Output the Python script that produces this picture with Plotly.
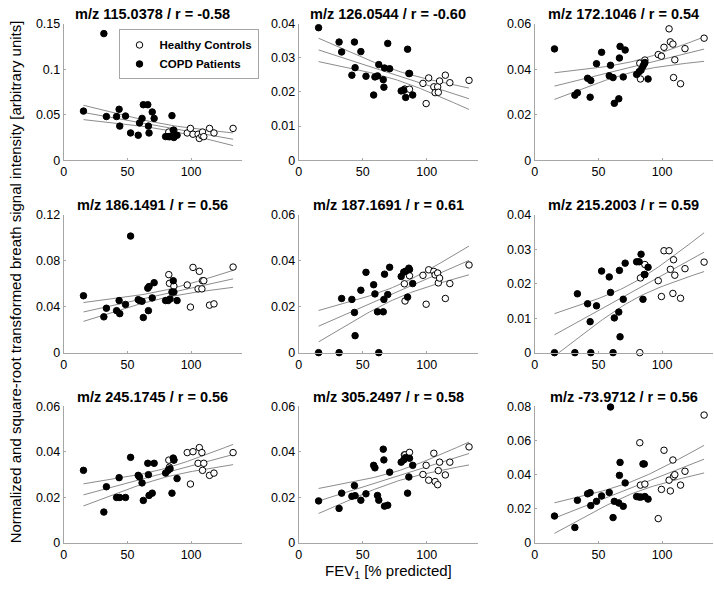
import numpy as np
import plotly.graph_objects as go

# FEV1 [% predicted] per subject (same subjects in every panel)
fev_copd = [15.5, 31.5, 33.5, 41.5, 43.5, 44, 48.5, 52.5, 58.5, 59.5, 61.5, 62.5,
            66, 66.5, 67, 69.5, 71, 80, 82, 83.5, 85, 86, 86.5, 89]
fev_healthy = [82.5, 83, 86.5, 97, 99.5, 101.5, 105.5, 106.5, 108.5, 109, 110,
               114.5, 118, 133]

titles = ["m/z 115.0378 / r = -0.58", "m/z 126.0544 / r = -0.60", "m/z 172.1046 / r = 0.54",
          "m/z 186.1491 / r = 0.56", "m/z 187.1691 / r = 0.61", "m/z 215.2003 / r = 0.59",
          "m/z 245.1745 / r = 0.56", "m/z 305.2497 / r = 0.58", "m/z -73.9712 / r = 0.56"]

y_max = [0.15, 0.04, 0.06, 0.12, 0.06, 0.04, 0.06, 0.06, 0.08]
y_dtick = [0.05, 0.01, 0.02, 0.04, 0.02, 0.01, 0.02, 0.02, 0.02]

copd_115 = [0.054, 0.139, 0.048, 0.048, 0.056, 0.0375, 0.0486, 0.030, 0.0275, 0.041, 0.046, 0.061,
            0.061, 0.0375, 0.030, 0.053, 0.046, 0.026, 0.026, 0.026, 0.049, 0.033, 0.025, 0.0275]
healthy_115 = [0.031, 0.026, 0.033, 0.030, 0.035, 0.0286, 0.0286, 0.024, 0.027, 0.031, 0.026,
               0.035, 0.030, 0.035]

copd_126 = [0.0388, 0.0346, 0.0317, 0.0249, 0.0346, 0.0271, 0.0318, 0.0246, 0.0191, 0.0244, 0.0247, 0.028,
            0.0236, 0.0214, 0.027, 0.0342, 0.0268, 0.0203, 0.0205, 0.0184, 0.0325, 0.0254, 0.0254, 0.0191]
healthy_126 = [0.0208, 0.0208, 0.0208, 0.0225, 0.0166, 0.0241, 0.0215, 0.0198, 0.0215, 0.0199, 0.0232,
               0.0249, 0.0227, 0.0234]

copd_172 = [0.0489, 0.0286, 0.0296, 0.036, 0.0277, 0.035, 0.0424, 0.0474, 0.0371, 0.0417, 0.0363, 0.025,
            0.027, 0.0449, 0.05, 0.0366, 0.0484, 0.0377, 0.0389, 0.0396, 0.0413, 0.0424, 0.0429, 0.0357]
healthy_172 = [0.0426, 0.0357, 0.044, 0.0464, 0.0457, 0.0496, 0.0577, 0.052, 0.051, 0.0363, 0.0441,
               0.0336, 0.049, 0.0536]

copd_186 = [0.0496, 0.0312, 0.0387, 0.0366, 0.0454, 0.034, 0.042, 0.1016, 0.0462, 0.0454, 0.0448, 0.0306,
            0.0562, 0.0366, 0.0576, 0.0477, 0.061, 0.0454, 0.0454, 0.0468, 0.0528, 0.0627, 0.0528, 0.0454]
healthy_186 = [0.068, 0.0604, 0.058, 0.059, 0.0397, 0.0743, 0.0556, 0.0709, 0.0556, 0.0627, 0.0627,
               0.0414, 0.0425, 0.0746]

copd_187 = [0.0, 0.0, 0.0236, 0.0232, 0.0175, 0.0074, 0.0272, 0.035, 0.0296, 0.0256, 0.0178, 0.0,
            0.0178, 0.0232, 0.0342, 0.0253, 0.0372, 0.0332, 0.0351, 0.0355, 0.0242, 0.0368, 0.0362, 0.0301]
healthy_187 = [0.030, 0.0225, 0.0335, 0.0337, 0.0211, 0.0361, 0.0354, 0.0339, 0.0347, 0.0304, 0.0325,
               0.0236, 0.0301, 0.0382]

copd_215 = [0.0, 0.0, 0.0171, 0.0142, 0.009, 0.0, 0.0136, 0.0237, 0.022, 0.0175, 0.0, 0.0101,
            0.0118, 0.0239, 0.0046, 0.0155, 0.026, 0.0264, 0.0264, 0.0286, 0.0155, 0.0227, 0.0227, 0.0248]
healthy_215 = [0.0, 0.0217, 0.0256, 0.0209, 0.0163, 0.0296, 0.0296, 0.0242, 0.0172, 0.027, 0.0225,
               0.0158, 0.0244, 0.0263]

copd_245 = [0.0319, 0.0136, 0.0247, 0.02, 0.0287, 0.02, 0.02, 0.0376, 0.0297, 0.029, 0.0264, 0.0187,
            0.035, 0.03, 0.0209, 0.0219, 0.035, 0.0307, 0.0319, 0.0326, 0.0219, 0.0373, 0.0365, 0.0283]
healthy_245 = [0.0364, 0.0333, 0.0364, 0.0397, 0.0259, 0.0401, 0.035, 0.0419, 0.0397, 0.0319, 0.035,
               0.0297, 0.0307, 0.0397]

copd_305 = [0.0185, 0.0152, 0.0219, 0.0205, 0.0252, 0.0208, 0.0188, 0.0216, 0.0341, 0.033, 0.0209, 0.0188,
            0.0412, 0.0365, 0.0162, 0.0166, 0.0311, 0.0355, 0.0365, 0.0375, 0.0219, 0.029, 0.0372, 0.0341]
healthy_305 = [0.0387, 0.0387, 0.0398, 0.0301, 0.0341, 0.0276, 0.0394, 0.027, 0.0256, 0.0318, 0.0355,
               0.0299, 0.0355, 0.0422]

copd_74 = [0.0158, 0.0091, 0.025, 0.0288, 0.0295, 0.0219, 0.0244, 0.0276, 0.0296, 0.0796, 0.0149, 0.0244,
           0.0234, 0.0396, 0.0472, 0.0215, 0.0352, 0.0272, 0.0269, 0.0269, 0.0463, 0.0463, 0.0272, 0.0257]
healthy_74 = [0.0587, 0.0339, 0.0345, 0.0143, 0.0314, 0.0543, 0.0368, 0.0305, 0.0486, 0.039, 0.040,
              0.0339, 0.042, 0.0749]

copd_all = [copd_115, copd_126, copd_172, copd_186, copd_187, copd_215, copd_245, copd_305, copd_74]
healthy_all = [healthy_115, healthy_126, healthy_172, healthy_186, healthy_187, healthy_215,
               healthy_245, healthy_305, healthy_74]

W, H = 714, 593


def px(x):
    return x / W


def py(y):
    return 1 - y / H


col_px = [(61, 240), (297, 477), (534, 713)]
row_px = [(17, 157), (213, 354), (409, 549)]
FONT = "Liberation Sans, Arial, Helvetica"


def fit_band(x, y):
    # straight line fit with 95% band, points beyond 3 sd left out of the fit
    keep = np.ones(len(x), bool)
    for _ in range(2):
        b, a = np.polyfit(x[keep], y[keep], 1)
        res = y - (a + b * x)
        s = np.sqrt(np.sum(res[keep] ** 2) / (keep.sum() - 2))
        keep = np.abs(res) < 3 * s
    b, a = np.polyfit(x[keep], y[keep], 1)
    xk = x[keep]
    res = y[keep] - (a + b * xk)
    s = np.sqrt(np.sum(res ** 2) / (len(xk) - 2))
    xs = np.linspace(x.min(), x.max(), 60)
    se = s * np.sqrt(1 / len(xk) + (xs - xk.mean()) ** 2 / np.sum((xk - xk.mean()) ** 2))
    fit = a + b * xs
    return xs, [fit, fit + 2.03 * se, fit - 2.03 * se]


fig = go.Figure()
ann = []
for i in range(9):
    r, c = divmod(i, 3)
    n = i + 1
    xa = "x" if n == 1 else f"x{n}"
    ya = "y" if n == 1 else f"y{n}"

    x = np.array(fev_copd + fev_healthy, dtype=float)
    y = np.array(copd_all[i] + healthy_all[i], dtype=float)
    xs, lines = fit_band(x, y)
    for yy in lines:
        fig.add_trace(go.Scatter(x=xs, y=yy, mode="lines", xaxis=xa, yaxis=ya,
                                 line=dict(color="#8c8c8c", width=1), showlegend=False,
                                 hoverinfo="skip"))

    fig.add_trace(go.Scatter(x=fev_healthy, y=healthy_all[i], mode="markers", xaxis=xa, yaxis=ya,
                             name="Healthy Controls", showlegend=(i == 0), cliponaxis=False,
                             marker=dict(size=6.5, color="white", line=dict(color="black", width=1))))
    fig.add_trace(go.Scatter(x=fev_copd, y=copd_all[i], mode="markers", xaxis=xa, yaxis=ya,
                             name="COPD Patients", showlegend=(i == 0), cliponaxis=False,
                             marker=dict(size=6.5, color="black", line=dict(color="black", width=1))))

    x0, x1 = col_px[c]
    y0, y1 = row_px[r]
    axis_common = dict(showline=True, linecolor="#a6a6a6", linewidth=1, showgrid=False,
                       zeroline=False, ticks="inside", ticklen=2, tickcolor="#a6a6a6",
                       tickfont=dict(family=FONT, size=12.5, color="black"))
    fig.layout[f"xaxis{'' if n == 1 else n}"] = dict(
        domain=[px(x0), px(x1)], anchor=ya, range=[0, 140], tickvals=[0, 50, 100], **axis_common)
    fig.layout[f"yaxis{'' if n == 1 else n}"] = dict(
        domain=[py(y1), py(y0)], anchor=xa, range=[0, y_max[i]], dtick=y_dtick[i],
        **axis_common)

    ann.append(dict(text=f"<b>{titles[i]}</b>", x=px((x0 + x1) / 2), y=py(y0 - 10),
                    xref="paper", yref="paper", xanchor="center", yanchor="middle",
                    showarrow=False, font=dict(family=FONT, size=14.5, color="black")))

ann.append(dict(text="FEV<sub>1</sub> [% predicted]", x=px(387), y=py(578),
                xref="paper", yref="paper", xanchor="center", yanchor="middle", showarrow=False,
                font=dict(family=FONT, size=15, color="black")))
ann.append(dict(text="Normalized and square-root transformed breath signal intensity [arbitrary units]",
                x=px(12), y=py(281), xref="paper", yref="paper", textangle=-90,
                xanchor="center", yanchor="middle", showarrow=False,
                font=dict(family=FONT, size=15, color="black")))

fig.update_layout(
    width=W, height=H, margin=dict(l=0, r=0, t=0, b=0),
    paper_bgcolor="white", plot_bgcolor="white",
    annotations=ann,
    legend=dict(x=px(116), y=py(23), xanchor="left", yanchor="top",
                bordercolor="#a6a6a6", borderwidth=1, bgcolor="white",
                font=dict(family=FONT, size=11.5, color="black", weight="bold"),
                tracegroupgap=0, itemwidth=30),
)

# figure fills the window exactly, without the page's default body margin
fig.write_html("out.html", config={"displayModeBar": False},
               post_script="document.body.style.margin='0';")
